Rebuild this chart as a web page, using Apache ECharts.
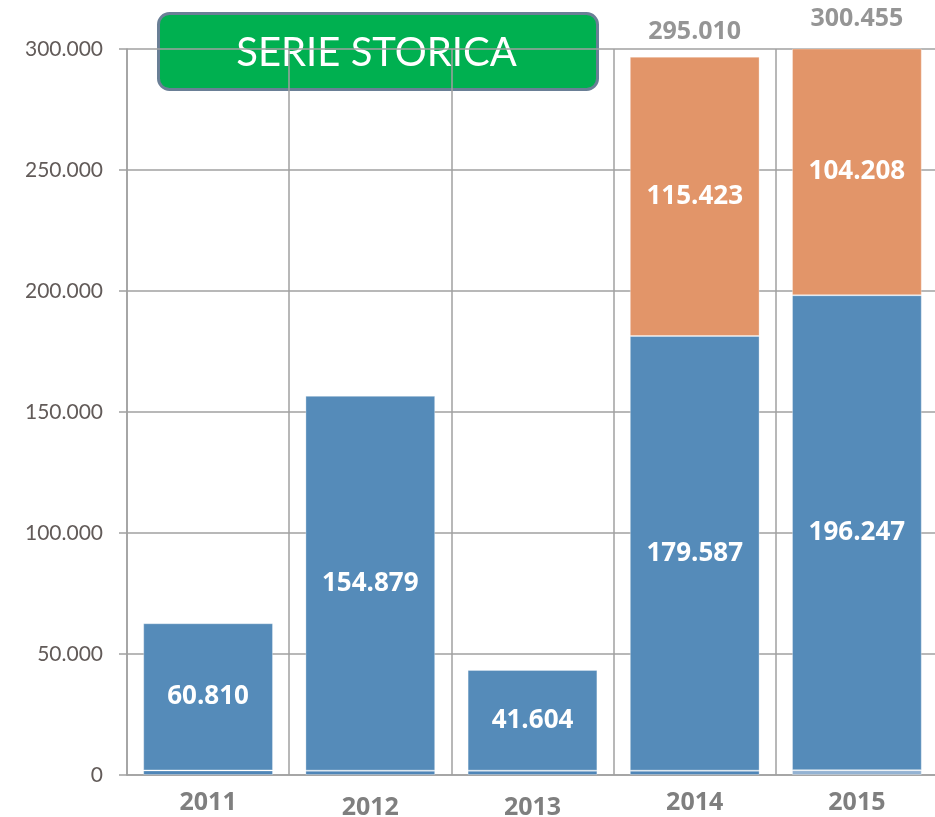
<!DOCTYPE html>
<html>
<head>
<meta charset="utf-8">
<title>Serie storica</title>
<script src="https://cdn.jsdelivr.net/npm/echarts@6/dist/echarts.min.js"></script>
<style>
  html, body { margin: 0; padding: 0; background: #fff; }
  #chart { width: 935px; height: 817px; }
</style>
</head>
<body>
<div id="chart"></div>
<script>
// dati
const categories = ['2011', '2012', '2013', '2014', '2015']
const baseValues = [1900, 1800, 1800, 1800, 2000]
const blueValues = [60810, 154879, 41604, 179587, 196247]
const orangeValues = ['-', '-', '-', 115423, 104208]
const totals = ['-', '-', '-', 295010, 300455]
const yTicks = [0, 50000, 100000, 150000, 200000, 250000, 300000]

const fmt = (v) => String(v).replace(/\B(?=(\d{3})+(?!\d))/g, '.')

const chart = echarts.init(document.getElementById('chart'))

const barBorder = { borderColor: 'rgba(255,255,255,0.3)', borderWidth: 1 }
const boldFont = 'Open Sans, sans-serif'

const option = {
  backgroundColor: '#ffffff',
  animation: false,
  grid: {
    left: 127,
    top: 49,
    width: 811,
    bottom: 42,
    outerBoundsMode: 'none',
  },
  graphic: [
    {
      type: 'group',
      left: 157,
      top: 12,
      z: 100,
      children: [
        {
          type: 'rect',
          shape: { x: 0, y: 0, width: 439, height: 76, r: 11 },
          style: { fill: '#00b050', stroke: '#6a7f96', lineWidth: 3 },
        },
        {
          type: 'text',
          x: 218,
          y: 40,
          style: {
            text: 'SERIE STORICA',
            fill: '#ffffff',
            font: '40px Lato, "Noto Sans", sans-serif',
            align: 'center',
            verticalAlign: 'middle',
          },
        },
      ],
    },
  ],
  xAxis: {
    type: 'category',
    data: categories,
    axisTick: { show: false },
    axisLine: { show: true, lineStyle: { color: '#a0a0a0', width: 1.5 } },
    splitLine: { show: true, lineStyle: { color: '#a0a0a0', width: 1.5 } },
    axisLabel: {
      margin: 15,
      formatter: (v, i) => (i === 1 || i === 2 ? '{lo|' + v + '}' : '{hi|' + v + '}'),
      rich: {
        hi: { color: '#7f7f7f', fontSize: 25, fontWeight: 'bold', fontFamily: boldFont },
        lo: { color: '#7f7f7f', fontSize: 25, fontWeight: 'bold', fontFamily: boldFont, padding: [5, 0, 0, 0] },
      },
    },
  },
  yAxis: {
    type: 'value',
    min: yTicks[0],
    max: yTicks[yTicks.length - 1],
    interval: yTicks[1] - yTicks[0],
    axisLine: { show: true, lineStyle: { color: '#a0a0a0', width: 1.5 } },
    axisTick: { show: true, length: 8, lineStyle: { color: '#a0a0a0', width: 1.5 } },
    splitLine: { show: true, lineStyle: { color: '#a0a0a0', width: 1.5 } },
    axisLabel: {
      margin: 24,
      color: '#625b59',
      fontSize: 21,
      fontFamily: 'Lato, "Noto Sans", sans-serif',
      formatter: (v) => fmt(v),
    },
  },
  series: [
    {
      name: 'base',
      type: 'bar',
      stack: 'tot',
      barCategoryGap: '20%',
      itemStyle: {
        ...barBorder,
        color: (p) => (p.dataIndex === 4 ? '#94b3d3' : '#4f86b8'),
      },
      data: baseValues,
    },
    {
      name: 'blu',
      type: 'bar',
      stack: 'tot',
      itemStyle: { ...barBorder, color: '#558bb9' },
      label: {
        show: true,
        position: 'inside',
        color: '#ffffff',
        fontSize: 26,
        fontWeight: 'bold',
        fontFamily: boldFont,
        formatter: (p) => fmt(p.value),
      },
      data: blueValues,
    },
    {
      name: 'arancio',
      type: 'bar',
      stack: 'tot',
      itemStyle: { ...barBorder, color: '#e29569' },
      label: {
        show: true,
        position: 'inside',
        color: '#ffffff',
        fontSize: 26,
        fontWeight: 'bold',
        fontFamily: boldFont,
        formatter: (p) => fmt(p.value),
      },
      data: orangeValues,
    },
    {
      name: 'totale',
      type: 'scatter',
      symbolSize: 0,
      clip: false,
      silent: true,
      label: {
        show: true,
        position: 'top',
        distance: 17,
        color: '#7a7a7a',
        fontSize: 25,
        fontWeight: 'bold',
        fontFamily: boldFont,
        formatter: (p) => fmt(Array.isArray(p.value) ? p.value[1] : p.value),
      },
      data: totals,
    },
  ],
}

chart.setOption(option)
window.addEventListener('resize', () => chart.resize())
</script>
</body>
</html>
